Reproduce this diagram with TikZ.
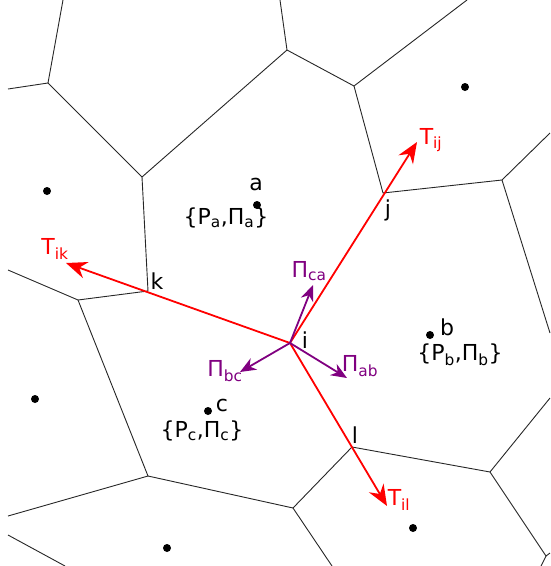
\documentclass[tikz,border=0pt]{standalone}
\usepackage{fontspec}
\setmainfont{DejaVu Sans}
\usetikzlibrary{arrows.meta}
\definecolor{pur}{RGB}{128,0,128}
\tikzset{
  vor/.style={draw=black!85, line width=0.9pt},
  redarr/.style={draw=red, line width=1.8pt, -{Stealth[length=21pt,width=17pt,inset=7pt]}},
  purarr/.style={draw=pur, line width=1.8pt, -{Stealth[length=16pt,width=13pt,inset=5pt]}},
  lbl/.style={inner sep=0pt, font=\fontsize{22}{26}\selectfont},
  rlbl/.style={lbl, text=red},
  plbl/.style={lbl, text=pur},
  site/.style={fill=black},
}
\begin{document}
\begin{tikzpicture}[x=1pt,y=-1pt]
\useasboundingbox (0,0) rectangle (550,566);
% Voronoi vertices
\coordinate (V1) at (48,83);
\coordinate (V2) at (142,177);
\coordinate (k) at (148,291);
\coordinate (V3) at (78,300);
\coordinate (V4) at (148,476);
\coordinate (V5) at (293,508);
\coordinate (l) at (352,447);
\coordinate (V6) at (490,472);
\coordinate (V7) at (546,556);
\coordinate (j) at (383,193);
\coordinate (V8) at (502,180);
\coordinate (V9) at (354,86);
\coordinate (V10) at (287,50);
\coordinate (i) at (290,343);
% Voronoi edges
\draw[vor] (63,0) -- (V1) -- (8,89);
\draw[vor] (V1) -- (V2) -- (V10) -- (280,0);
\draw[vor] (V10) -- (V9) -- (467,0);
\draw[vor] (V9) -- (j) -- (V8) -- (550,133);
\draw[vor] (V8) -- (550,333);
\draw[vor] (V2) -- (k) -- (V3) -- (8,270);
\draw[vor] (V3) -- (V4) -- (8,516);
\draw[vor] (V4) -- (V5) -- (332,566);
\draw[vor] (V5) -- (l) -- (V6) -- (550,398);
\draw[vor] (V6) -- (V7) -- (550,553);
\draw[vor] (V7) -- (541,566);
\draw[vor] (8,535) -- (65,566);
% sites
\foreach \p in {(257,205),(430,335),(208,411),(47,191),(465,87),(35,399),(167,548),(413,528)}
  \fill[site] \p circle (4);
% arrow tips
\coordinate (tij) at (417,142);
\coordinate (tik) at (66,263);
\coordinate (til) at (387,506);
\coordinate (pca) at (313,285);
\coordinate (pbc) at (240,372);
\coordinate (pab) at (347,378);
\draw[redarr] (i) -- (tij);
\draw[redarr] (i) -- (tik);
\draw[redarr] (i) -- (til);
\draw[purarr] (i) -- (pca);
\draw[purarr] (i) -- (pbc);
\draw[purarr] (i) -- (pab);
% labels
\node[lbl] (la) at (256,184) {a};
\node[lbl] (Pa) at (226,218) {\{P\textsubscript{a},Π\textsubscript{a}\}};
\node[lbl] (lb) at (447,327) {b};
\node[lbl] (Pb) at (460,355) {\{P\textsubscript{b},Π\textsubscript{b}\}};
\node[lbl] (lc) at (222,405) {c};
\node[lbl] (Pc) at (202,431) {\{P\textsubscript{c},Π\textsubscript{c}\}};
\node[lbl] (li) at (305,340) {i};
\node[lbl] (lj) at (388,210) {j};
\node[lbl] (lk) at (157,281) {k};
\node[lbl] (ll) at (355,435) {l};
\node[rlbl] (Tij) at (431,140) {T\textsubscript{ij}};
\node[rlbl] (Tik) at (55,249) {T\textsubscript{ik}};
\node[rlbl] (Til) at (399,500) {T\textsubscript{il}};
\node[plbl] (Pca) at (309,271) {Π\textsubscript{ca}};
\node[plbl] (Pbc) at (225,371) {Π\textsubscript{bc}};
\node[plbl] (Pab) at (360,366) {Π\textsubscript{ab}};
\end{tikzpicture}
\end{document}
